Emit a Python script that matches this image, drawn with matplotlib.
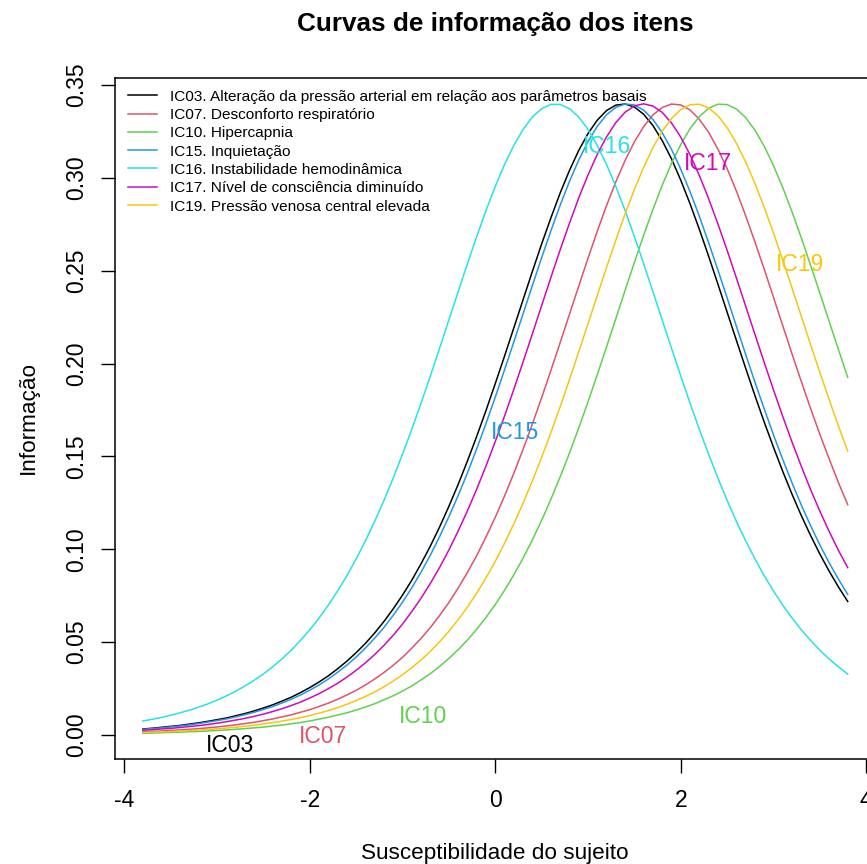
import matplotlib

matplotlib.use("Agg")
import matplotlib.pyplot as plt

# Ability grid (theta) and item information
theta = [-3.8, -3.7, -3.6, -3.5, -3.4, -3.3, -3.2, -3.1, -3.0, -2.9,
         -2.8, -2.7, -2.6, -2.5, -2.4, -2.3, -2.2, -2.1, -2.0, -1.9,
         -1.8, -1.7, -1.6, -1.5, -1.4, -1.3, -1.2, -1.1, -1.0, -0.9,
         -0.8, -0.7, -0.6, -0.5, -0.4, -0.3, -0.2, -0.1, 0.0, 0.1,
         0.2, 0.3, 0.4, 0.5, 0.6, 0.7, 0.8, 0.9, 1.0, 1.1,
         1.2, 1.3, 1.4, 1.5, 1.6, 1.7, 1.8, 1.9, 2.0, 2.1,
         2.2, 2.3, 2.4, 2.5, 2.6, 2.7, 2.8, 2.9, 3.0, 3.1,
         3.2, 3.3, 3.4, 3.5, 3.6, 3.7, 3.8]

ic03 = [0.0032, 0.0036, 0.0041, 0.0046, 0.0051, 0.0058, 0.0065, 0.0073, 0.0082, 0.0091,
        0.0103, 0.0115, 0.0129, 0.0145, 0.0162, 0.0182, 0.0203, 0.0228, 0.0255, 0.0285,
        0.0318, 0.0356, 0.0397, 0.0443, 0.0493, 0.0549, 0.0611, 0.0679, 0.0753, 0.0833,
        0.0922, 0.1017, 0.1120, 0.1231, 0.1349, 0.1475, 0.1608, 0.1747, 0.1892, 0.2040,
        0.2192, 0.2344, 0.2496, 0.2644, 0.2785, 0.2919, 0.3040, 0.3148, 0.3239, 0.3311,
        0.3363, 0.3392, 0.3398, 0.3382, 0.3343, 0.3282, 0.3201, 0.3103, 0.2988, 0.2861,
        0.2724, 0.2579, 0.2429, 0.2277, 0.2125, 0.1975, 0.1827, 0.1685, 0.1549, 0.1419,
        0.1296, 0.1181, 0.1074, 0.0974, 0.0882, 0.0797, 0.0719]
ic07 = [0.0017, 0.0019, 0.0021, 0.0024, 0.0027, 0.0030, 0.0034, 0.0038, 0.0043, 0.0048,
        0.0054, 0.0061, 0.0068, 0.0077, 0.0086, 0.0097, 0.0108, 0.0122, 0.0136, 0.0153,
        0.0171, 0.0192, 0.0215, 0.0240, 0.0269, 0.0301, 0.0336, 0.0375, 0.0418, 0.0467,
        0.0520, 0.0578, 0.0643, 0.0713, 0.0791, 0.0875, 0.0966, 0.1066, 0.1172, 0.1287,
        0.1409, 0.1538, 0.1674, 0.1816, 0.1963, 0.2113, 0.2265, 0.2417, 0.2567, 0.2713,
        0.2851, 0.2979, 0.3094, 0.3194, 0.3276, 0.3339, 0.3379, 0.3398, 0.3393, 0.3366,
        0.3316, 0.3246, 0.3156, 0.3050, 0.2929, 0.2796, 0.2655, 0.2508, 0.2357, 0.2204,
        0.2052, 0.1903, 0.1758, 0.1619, 0.1486, 0.1359, 0.1240]
ic10 = [0.0009, 0.0010, 0.0012, 0.0013, 0.0015, 0.0017, 0.0019, 0.0021, 0.0024, 0.0027,
        0.0030, 0.0034, 0.0038, 0.0042, 0.0048, 0.0053, 0.0060, 0.0067, 0.0075, 0.0085,
        0.0095, 0.0107, 0.0119, 0.0134, 0.0150, 0.0168, 0.0189, 0.0211, 0.0236, 0.0264,
        0.0296, 0.0330, 0.0369, 0.0412, 0.0459, 0.0511, 0.0569, 0.0633, 0.0702, 0.0779,
        0.0862, 0.0952, 0.1050, 0.1156, 0.1269, 0.1390, 0.1518, 0.1653, 0.1794, 0.1940,
        0.2090, 0.2242, 0.2395, 0.2545, 0.2691, 0.2830, 0.2960, 0.3078, 0.3180, 0.3265,
        0.3330, 0.3375, 0.3397, 0.3395, 0.3371, 0.3325, 0.3257, 0.3171, 0.3066, 0.2948,
        0.2817, 0.2677, 0.2530, 0.2379, 0.2227, 0.2075, 0.1926]
ic15 = [0.0030, 0.0034, 0.0038, 0.0043, 0.0048, 0.0054, 0.0061, 0.0069, 0.0077, 0.0086,
        0.0097, 0.0109, 0.0122, 0.0137, 0.0153, 0.0172, 0.0192, 0.0215, 0.0241, 0.0269,
        0.0301, 0.0337, 0.0376, 0.0419, 0.0468, 0.0521, 0.0579, 0.0644, 0.0715, 0.0792,
        0.0877, 0.0968, 0.1068, 0.1175, 0.1289, 0.1411, 0.1541, 0.1677, 0.1819, 0.1966,
        0.2116, 0.2268, 0.2420, 0.2570, 0.2715, 0.2853, 0.2981, 0.3096, 0.3196, 0.3278,
        0.3340, 0.3380, 0.3398, 0.3393, 0.3365, 0.3315, 0.3244, 0.3154, 0.3047, 0.2926,
        0.2794, 0.2652, 0.2505, 0.2354, 0.2201, 0.2049, 0.1900, 0.1756, 0.1616, 0.1483,
        0.1357, 0.1238, 0.1127, 0.1023, 0.0927, 0.0839, 0.0757]
ic16 = [0.0075, 0.0084, 0.0094, 0.0106, 0.0119, 0.0133, 0.0149, 0.0167, 0.0187, 0.0210,
        0.0235, 0.0263, 0.0294, 0.0328, 0.0367, 0.0409, 0.0456, 0.0509, 0.0566, 0.0629,
        0.0699, 0.0775, 0.0857, 0.0948, 0.1045, 0.1150, 0.1263, 0.1384, 0.1512, 0.1646,
        0.1787, 0.1933, 0.2083, 0.2235, 0.2387, 0.2538, 0.2684, 0.2824, 0.2954, 0.3072,
        0.3175, 0.3261, 0.3328, 0.3373, 0.3396, 0.3396, 0.3373, 0.3328, 0.3261, 0.3175,
        0.3072, 0.2954, 0.2824, 0.2684, 0.2538, 0.2387, 0.2235, 0.2083, 0.1933, 0.1787,
        0.1646, 0.1512, 0.1384, 0.1263, 0.1150, 0.1045, 0.0948, 0.0857, 0.0775, 0.0699,
        0.0629, 0.0566, 0.0509, 0.0456, 0.0409, 0.0367, 0.0328]
ic17 = [0.0025, 0.0028, 0.0032, 0.0035, 0.0040, 0.0045, 0.0050, 0.0056, 0.0063, 0.0071,
        0.0080, 0.0089, 0.0100, 0.0112, 0.0126, 0.0141, 0.0158, 0.0177, 0.0199, 0.0222,
        0.0249, 0.0278, 0.0311, 0.0348, 0.0388, 0.0433, 0.0482, 0.0537, 0.0597, 0.0664,
        0.0736, 0.0816, 0.0902, 0.0996, 0.1098, 0.1207, 0.1324, 0.1448, 0.1580, 0.1717,
        0.1861, 0.2009, 0.2160, 0.2312, 0.2464, 0.2613, 0.2756, 0.2892, 0.3016, 0.3127,
        0.3221, 0.3298, 0.3354, 0.3388, 0.3399, 0.3387, 0.3353, 0.3296, 0.3220, 0.3125,
        0.3014, 0.2889, 0.2753, 0.2610, 0.2461, 0.2309, 0.2157, 0.2006, 0.1858, 0.1715,
        0.1577, 0.1446, 0.1321, 0.1205, 0.1096, 0.0994, 0.0901]
ic19 = [0.0013, 0.0015, 0.0016, 0.0018, 0.0021, 0.0023, 0.0026, 0.0029, 0.0033, 0.0037,
        0.0041, 0.0047, 0.0052, 0.0059, 0.0066, 0.0074, 0.0083, 0.0093, 0.0104, 0.0117,
        0.0131, 0.0147, 0.0165, 0.0185, 0.0207, 0.0232, 0.0259, 0.0290, 0.0324, 0.0362,
        0.0404, 0.0450, 0.0502, 0.0558, 0.0621, 0.0689, 0.0764, 0.0846, 0.0935, 0.1032,
        0.1136, 0.1248, 0.1368, 0.1495, 0.1628, 0.1768, 0.1914, 0.2063, 0.2215, 0.2367,
        0.2518, 0.2665, 0.2806, 0.2938, 0.3057, 0.3163, 0.3251, 0.3320, 0.3368, 0.3394,
        0.3397, 0.3377, 0.3335, 0.3271, 0.3187, 0.3086, 0.2970, 0.2841, 0.2703, 0.2557,
        0.2407, 0.2254, 0.2102, 0.1952, 0.1806, 0.1664, 0.1529]

items = ["IC03", "IC07", "IC10", "IC15", "IC16", "IC17", "IC19"]
legend_labels = [
    "IC03. Alteração da pressão arterial em relação aos parâmetros basais",
    "IC07. Desconforto respiratório",
    "IC10. Hipercapnia",
    "IC15. Inquietação",
    "IC16. Instabilidade hemodinâmica",
    "IC17. Nível de consciência diminuído",
    "IC19. Pressão venosa central elevada",
]
# where each item tag is written on the chart (theta, information)
tag_x = [-2.86, -1.86, -0.78, 0.218, 1.21, 2.288, 3.29]
tag_y = [-0.0059, -0.0011, 0.0097, 0.1629, 0.3169, 0.3076, 0.2534]

colors = ["#000000", "#DF536B", "#61D04F", "#2297E6", "#28E2E5", "#CD0BBC", "#F5C710"]
series = [ic03, ic07, ic10, ic15, ic16, ic17, ic19]

plt.rcParams["font.family"] = ["Liberation Sans", "DejaVu Sans"]
plt.rcParams["axes.unicode_minus"] = False

W, H = 867, 864
fig = plt.figure(figsize=(W / 100, H / 100), dpi=100)
# plot region runs a little past the right edge of the image, as in the source
ax = fig.add_axes([114.6 / W, (H - 758.5) / H, 761.3 / W, 680.1 / H])

for vals, col, lab in zip(series, colors, legend_labels):
    ax.plot(theta, vals, color=col, linewidth=1.1, label=lab)

for name, x, y, col in zip(items, tag_x, tag_y, colors):
    ax.text(x, y, name, color=col, fontsize=16.5, ha="center", va="center")

ax.set_xlim(-4.104, 4.104)
ax.set_ylim(-0.0127, 0.3536)
ax.set_xticks([-4, -2, 0, 2, 4])
ax.set_yticks([0.0, 0.05, 0.10, 0.15, 0.20, 0.25, 0.30, 0.35])
ax.set_yticklabels([f"{v:.2f}" for v in ax.get_yticks()], rotation=90, va="center")
ax.tick_params(axis="both", length=10, width=1, labelsize=16.5, direction="out")
ax.tick_params(axis="x", pad=12)
ax.tick_params(axis="y", pad=9)
for sp in ax.spines.values():
    sp.set_linewidth(1.1)

ax.legend(loc="upper left", bbox_to_anchor=(0.0176, 0.9835), frameon=False,
          fontsize=11.1, handlelength=1.9, handletextpad=0.85, labelspacing=0.28,
          borderpad=0, borderaxespad=0)

fig.text(495 / W, 1 - 24 / H, "Curvas de informação dos itens", fontsize=18.8,
         fontweight="bold", ha="center", va="center")
fig.text(495 / W, 1 - 854 / H, "Susceptibilidade do sujeito", fontsize=16.2,
         ha="center", va="center")
fig.text(28 / W, 1 - 417 / H, "Informação", fontsize=16.2, rotation=90,
         ha="center", va="center")

fig.savefig("out.png", dpi=100)
